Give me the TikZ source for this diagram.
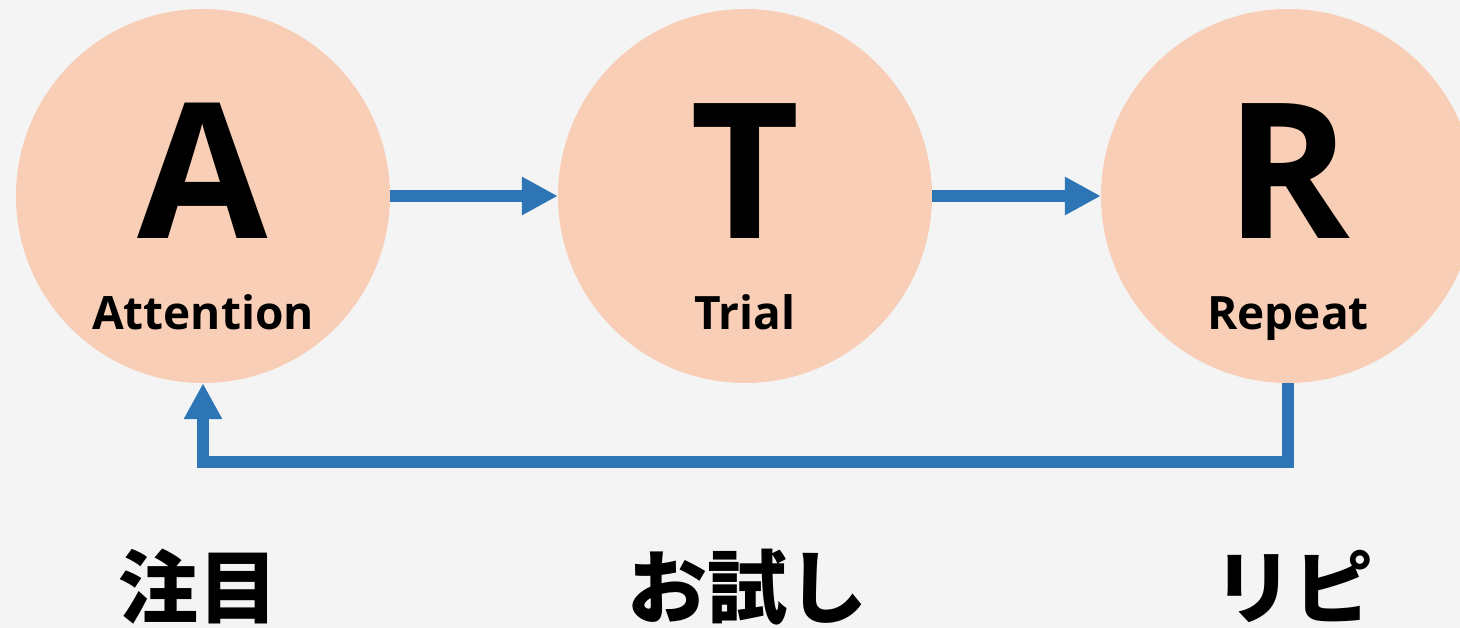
\documentclass[tikz,border=0pt]{standalone}
\usepackage{fontspec}
\usepackage{tikz}
\usetikzlibrary{arrows.meta}

\setmainfont{Open Sans}
\newfontfamily\jpfont{Noto Sans CJK JP}

\definecolor{bgray}{HTML}{F4F4F4}
\definecolor{peach}{HTML}{F8CFB6}
\definecolor{flowblue}{HTML}{2E75B6}

\newcommand{\bigletter}{\fontsize{189}{200}\selectfont\bfseries}
\newcommand{\wordlabel}{\fontsize{46}{56}\selectfont\bfseries}
\newcommand{\jplabel}{\fontsize{80}{90}\selectfont\jpfont\bfseries}

\tikzset{
	stage/.style={shape=circle, fill=peach, minimum size=374pt, inner sep=0pt},
	flow/.style={-{Triangle[length=36pt, width=36pt]}, line width=12pt, color=flowblue}
}

\begin{document}
\begin{tikzpicture}[x=1pt, y=-1pt]
	\fill[bgray] (0,0) rectangle (1460,628);
	\useasboundingbox (0,0) rectangle (1460,628);

	\node[stage] (a) at (203, 196) {};
	\node[stage] (t) at (745, 196) {};
	\node[stage] (r) at (1288, 196) {};

	\node[anchor=base] (aletter) at (203, 239) {\bigletter A};
	\node[anchor=base] (tletter) at (745, 239) {\bigletter T};
	\node[anchor=base] (rletter) at (1288, 239) {\bigletter R};

	\node[anchor=base] (aword) at (203, 330) {\wordlabel Attention};
	\node[anchor=base] (tword) at (745, 330) {\wordlabel Trial};
	\node[anchor=base] (rword) at (1288, 330) {\wordlabel Repeat};

	\node[anchor=base] (ajp) at (198, 617) {\jplabel 注目};
	\node[anchor=base] (tjp) at (747, 617) {\jplabel お試し};
	\node[anchor=base] (rjp) at (1293, 617) {\jplabel リピ};

	\coordinate (loop) at (0, 462);

	\path[flow] (a) edge (t);
	\path[flow] (t) edge (r);
	\draw[flow] (r.south) -- (r.south |- loop) -| (a.south);
\end{tikzpicture}
\end{document}
